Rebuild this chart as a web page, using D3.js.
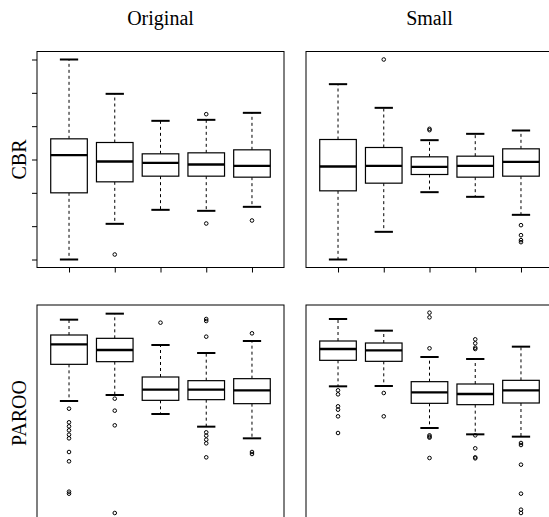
<!DOCTYPE html>
<html>
<head>
<meta charset="utf-8">
<script src="https://cdn.jsdelivr.net/npm/d3@7"></script>
<style>
  html, body { margin: 0; padding: 0; background: #fff; }
  svg { display: block; }
</style>
</head>
<body>
<svg id="chart" width="549" height="517"></svg>
<script>
// ---- data (each box: [lower whisker, Q1, median, Q3, upper whisker]) ----
const groups = [1, 2, 3, 4, 5];
const colTitles = ["Original", "Small"];
const rowTitles = ["CBR", "PAROO"];
const yTicks = [-3, -2, -1, 0, 1, 2, 3];

const cbrOriginalStats = [
  [-3.00, -1.00, 0.13, 0.62, 3.00],
  [-1.93, -0.67, -0.06, 0.51, 1.97],
  [-1.51, -0.50, -0.10, 0.17, 1.16],
  [-1.54, -0.50, -0.15, 0.20, 1.19],
  [-1.42, -0.53, -0.19, 0.29, 1.40]
];
const cbrOriginalOutliers = [[], [-2.85], [], [1.36, -1.92], [-1.83]];

const cbrSmallStats = [
  [-3.00, -0.94, -0.21, 0.60, 2.26],
  [-2.17, -0.71, -0.19, 0.36, 1.55],
  [-0.98, -0.45, -0.22, 0.08, 0.58],
  [-1.12, -0.53, -0.19, 0.10, 0.77],
  [-1.66, -0.50, -0.07, 0.32, 0.87]
];
const cbrSmallOutliers = [[], [3.00], [0.88, 0.92], [], [-1.97, -2.27, -2.42, -2.48]];

const parooOriginalStats = [
  [0.36, 1.46, 2.06, 2.34, 2.80],
  [0.54, 1.54, 1.89, 2.24, 2.98],
  [-0.03, 0.38, 0.70, 1.08, 2.04],
  [-0.41, 0.40, 0.70, 0.97, 1.80],
  [-0.76, 0.28, 0.68, 1.03, 2.16]
];
const parooOriginalOutliers = [
  [0.13, -0.28, -0.40, -0.52, -0.65, -0.76, -1.17, -1.45, -2.36, -2.42],
  [0.43, 0.07, -0.37, -3.00],
  [2.71],
  [2.82, 2.76, 2.29, -0.58, -0.68, -0.80, -0.91, -1.33],
  [2.39, -1.17, -1.23]
];

const parooSmallStats = [
  [0.80, 1.58, 1.92, 2.16, 2.82],
  [0.81, 1.55, 1.88, 2.10, 2.47],
  [-0.45, 0.29, 0.62, 0.94, 1.68],
  [-0.64, 0.25, 0.57, 0.87, 1.62],
  [-0.71, 0.30, 0.68, 0.98, 1.99]
];
const parooSmallOutliers = [
  [0.68, 0.56, 0.20, 0.10, -0.10, -0.60],
  [0.60, -0.10],
  [3.01, 2.87, 1.94, -0.67, -0.71, -0.74, -1.35],
  [2.21, 2.09, 1.96, 1.92, -0.67, -1.06, -1.33, -1.36],
  [-0.90, -0.96, -1.55, -2.42, -2.90, -3.00]
];

// ---- layout ----
const svg = d3.select("#chart");
const colX = [[37, 284], [306, 553]];
const rowY = [[51.5, 267.5], [305, 521]];
const panels = [
  { row: 0, col: 0, stats: cbrOriginalStats, outliers: cbrOriginalOutliers, yAxis: true, xAxis: true },
  { row: 0, col: 1, stats: cbrSmallStats, outliers: cbrSmallOutliers, yAxis: false, xAxis: true },
  { row: 1, col: 0, stats: parooOriginalStats, outliers: parooOriginalOutliers, yAxis: false, xAxis: true },
  { row: 1, col: 1, stats: parooSmallStats, outliers: parooSmallOutliers, yAxis: false, xAxis: true }
];

const font = "'Liberation Serif', 'Times New Roman', serif";

colTitles.forEach((t, i) => {
  svg.append("text")
    .attr("x", (colX[i][0] + colX[i][1]) / 2)
    .attr("y", 25)
    .attr("text-anchor", "middle")
    .style("font-family", font)
    .style("font-size", "20px")
    .attr("fill", "#000")
    .text(t);
});
rowTitles.forEach((t, i) => {
  const cy = (rowY[i][0] + rowY[i][1]) / 2;
  svg.append("text")
    .attr("transform", `translate(25.5,${cy}) rotate(-90)`)
    .attr("text-anchor", "middle")
    .style("font-family", font)
    .style("font-size", "20px")
    .attr("fill", "#000")
    .text(t);
});

panels.forEach(p => {
  const [x0, x1] = colX[p.col];
  const [y0, y1] = rowY[p.row];
  const x = d3.scaleLinear().domain([0.3, 5.7]).range([x0, x1]);
  const y = d3.scaleLinear().domain([-3.24, 3.24]).range([y1, y0]);
  const g = svg.append("g");
  const boxW = 0.8, capW = 0.4;

  p.stats.forEach((s, i) => {
    const c = groups[i];
    const [lo, q1, md, q3, hi] = s;
    // whiskers
    g.append("line").attr("x1", x(c)).attr("x2", x(c)).attr("y1", y(q3)).attr("y2", y(hi))
      .attr("stroke", "#000").attr("stroke-width", 1).attr("stroke-dasharray", "3,3");
    g.append("line").attr("x1", x(c)).attr("x2", x(c)).attr("y1", y(q1)).attr("y2", y(lo))
      .attr("stroke", "#000").attr("stroke-width", 1).attr("stroke-dasharray", "3,3");
    // staples
    [lo, hi].forEach(v => {
      g.append("line").attr("x1", x(c - capW / 2)).attr("x2", x(c + capW / 2))
        .attr("y1", y(v)).attr("y2", y(v))
        .attr("stroke", "#000").attr("stroke-width", 2);
    });
    // box
    g.append("rect").attr("x", x(c - boxW / 2)).attr("width", x(c + boxW / 2) - x(c - boxW / 2))
      .attr("y", y(q3)).attr("height", y(q1) - y(q3))
      .attr("fill", "#fff").attr("stroke", "#000").attr("stroke-width", 1.2);
    // median
    g.append("line").attr("x1", x(c - boxW / 2)).attr("x2", x(c + boxW / 2))
      .attr("y1", y(md)).attr("y2", y(md))
      .attr("stroke", "#000").attr("stroke-width", 2.4);
    // outliers
    p.outliers[i].forEach(v => {
      g.append("circle").attr("cx", x(c)).attr("cy", y(v)).attr("r", 1.8)
        .attr("fill", "none").attr("stroke", "#000").attr("stroke-width", 1);
    });
  });

  // frame
  g.append("rect").attr("x", x0).attr("y", y0).attr("width", x1 - x0).attr("height", y1 - y0)
    .attr("fill", "none").attr("stroke", "#000").attr("stroke-width", 1);

  if (p.xAxis) {
    const ax = d3.axisBottom(x).tickValues(groups).tickSize(5).tickFormat("");
    const ag = g.append("g").attr("transform", `translate(0,${y1})`).call(ax);
    ag.select(".domain").remove();
    ag.selectAll("line").attr("stroke", "#000");
  }
  if (p.yAxis) {
    const ay = d3.axisLeft(y).tickValues(yTicks).tickSize(5).tickFormat("");
    const ag = g.append("g").attr("transform", `translate(${x0},0)`).call(ay);
    ag.select(".domain").remove();
    ag.selectAll("line").attr("stroke", "#000");
  }
});
</script>
</body>
</html>
